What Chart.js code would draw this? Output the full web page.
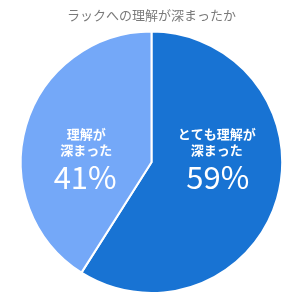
<!DOCTYPE html>
<html>
<head>
<meta charset="utf-8">
<script src="https://cdn.jsdelivr.net/npm/chart.js@4"></script>
<style>
  html, body { margin: 0; padding: 0; background: #fff; }
  #wrap { width: 300px; height: 300px; }
</style>
</head>
<body>
<div id="wrap"><canvas id="myChart"></canvas></div>
<script>
var title = "ラックへの理解が深まったか";
var labels = ["とても理解が深まった", "理解が深まった"];
var values = [59, 41];
var labelLines = [["とても理解が", "深まった"], ["理解が", "深まった"]];
var colors = ["#1873d3", "#74a8f8"];

// draws the text inside each slice
const sliceText = {
  id: "sliceText",
  afterDatasetsDraw(chart) {
    const ctx = chart.ctx;
    const meta = chart.getDatasetMeta(0);
    const total = values.reduce((a, b) => a + b, 0);
    meta.data.forEach((arc, i) => {
      const side = i === 0 ? 1 : -1;
      const x = arc.x + side * arc.outerRadius * 0.5;
      const y = arc.y;
      ctx.save();
      ctx.fillStyle = "#fff";
      ctx.textAlign = "center";
      ctx.textBaseline = "middle";
      ctx.font = "bold 13px 'Noto Sans CJK JP'";
      ctx.fillText(labelLines[i][0], x, y - 28);
      ctx.fillText(labelLines[i][1], x, y - 12);
      ctx.font = "normal 31px 'Noto Sans CJK JP'";
      ctx.fillText(Math.round(values[i] / total * 100) + "%", x + side * 1, y + 15);
      ctx.restore();
    });
  }
};

const myChart = new Chart(document.getElementById("myChart"), {
  type: "pie",
  data: {
    labels,
    datasets: [
      {
        data: values,
        backgroundColor: colors,
        borderColor: "#fff",
        borderWidth: 2,
      },
    ],
  },
  options: {
    responsive: true,
    maintainAspectRatio: false,
    animation: false,
    layout: { padding: { left: 3, bottom: 6 } },
    plugins: {
      legend: { display: false },
      tooltip: { enabled: false },
      title: {
        display: true,
        text: title,
        color: "#7a7a7a",
        font: { family: "'Noto Sans CJK JP'", size: 13, weight: "normal" },
        padding: { top: 7, bottom: 8 },
      },
    },
  },
  plugins: [sliceText],
});
</script>
</body>
</html>
